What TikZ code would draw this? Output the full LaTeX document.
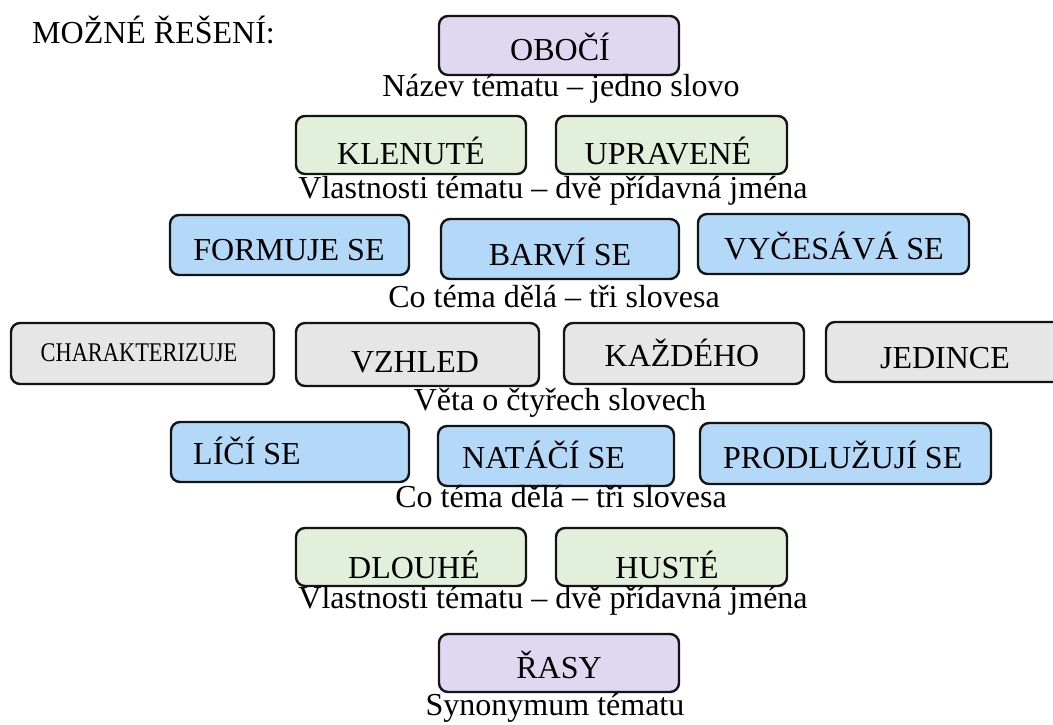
\documentclass[tikz,border=0pt]{standalone}
\usepackage{fontspec}
\setmainfont{Liberation Serif}
\definecolor{cpurple}{RGB}{224,216,240}
\definecolor{cgreen}{RGB}{226,239,218}
\definecolor{cblue}{RGB}{180,216,247}
\definecolor{cgray}{RGB}{230,230,230}
\definecolor{cline}{RGB}{20,20,20}
\tikzset{
  box/.style={draw=cline, line width=2.4pt, rounded corners=9pt, inner sep=0pt},
  txt/.style={inner sep=0pt, anchor=base, font=\fontsize{32}{38}\selectfont},
  txtl/.style={txt, anchor=base west},
}
\begin{document}
\begin{tikzpicture}[x=1pt,y=-1pt]
\useasboundingbox (0,0) rectangle (1053,724);
\clip (0,0) rectangle (1053,724);
% title
\node[txt, anchor=base west] (title) at (32,43) {MOŽNÉ ŘEŠENÍ:};
% row 1
\node[box, fill=cpurple, minimum width=240pt, minimum height=59pt] (b1) at (559,45.5) {};
\node[txt] (t1) at (560,60) {OBOČÍ};
\node[txt] (l1) at (561,96) {Název tématu – jedno slovo};
% row 2
\node[box, fill=cgreen, minimum width=230pt, minimum height=58pt] (b2a) at (411,145) {};
\node[box, fill=cgreen, minimum width=231pt, minimum height=58pt] (b2b) at (671.5,145) {};
\node[txt] (t2a) at (411,164) {KLENUTÉ};
\node[txt] (t2b) at (668,164) {UPRAVENÉ};
\node[txt] (l2) at (553,198) {Vlastnosti tématu – dvě přídavná jména};
% row 3
\node[box, fill=cblue, minimum width=239pt, minimum height=60pt] (b3a) at (289.5,245) {};
\node[box, fill=cblue, minimum width=238pt, minimum height=60pt] (b3b) at (560,249) {};
\node[box, fill=cblue, minimum width=271pt, minimum height=60pt] (b3c) at (833.5,244) {};
\node[txt] (t3a) at (289,260) {FORMUJE SE};
\node[txt] (t3b) at (560,265) {BARVÍ SE};
\node[txt] (t3c) at (834,259) {VYČESÁVÁ SE};
\node[txt] (l3) at (554,307) {Co téma dělá – tři slovesa};
% row 4
\node[box, fill=cgray, minimum width=263pt, minimum height=61pt] (b4a) at (142.5,353.5) {};
\node[box, fill=cgray, minimum width=243pt, minimum height=63pt] (b4b) at (417.5,354.5) {};
\node[box, fill=cgray, minimum width=240pt, minimum height=61pt] (b4c) at (684,353.5) {};
\node[box, fill=cgray, minimum width=238pt, minimum height=60pt] (b4d) at (945,352) {};
\node[txt, font=\fontsize{27}{32}\selectfont] (t4a) at (139,361) {\scalebox{0.83}[1]{CHARAKTERIZUJE}};
\node[txt] (t4b) at (415,372) {VZHLED};
\node[txt] (t4c) at (682,366) {KAŽDÉHO};
\node[txt] (t4d) at (945,368) {JEDINCE};
\node[txt] (l4) at (560,410) {Věta o čtyřech slovech};
% row 5
\node[box, fill=cblue, minimum width=238pt, minimum height=60pt] (b5a) at (290,452) {};
\node[box, fill=cblue, minimum width=236pt, minimum height=60pt] (b5b) at (556,456) {};
\node[box, fill=cblue, minimum width=291pt, minimum height=61pt] (b5c) at (845.5,453.5) {};
\node[txtl] (t5a) at (193,464) {LÍČÍ SE};
\node[txtl] (t5b) at (462,468) {NATÁČÍ SE};
\node[txtl] (t5c) at (723,468) {PRODLUŽUJÍ SE};
\node[txt] (l5) at (561,507) {Co téma dělá – tři slovesa};
% row 6
\node[box, fill=cgreen, minimum width=230pt, minimum height=58pt] (b6a) at (411,557) {};
\node[box, fill=cgreen, minimum width=231pt, minimum height=58pt] (b6b) at (671.5,557) {};
\node[txt] (t6a) at (414,578) {DLOUHÉ};
\node[txt] (t6b) at (667,578) {HUSTÉ};
\node[txt] (l6) at (553,608) {Vlastnosti tématu – dvě přídavná jména};
% row 7
\node[box, fill=cpurple, minimum width=240pt, minimum height=58pt] (b7) at (559,663) {};
\node[txt] (t7) at (559,678) {ŘASY};
\node[txt] (l7) at (555,715) {Synonymum tématu};
\end{tikzpicture}
\end{document}
